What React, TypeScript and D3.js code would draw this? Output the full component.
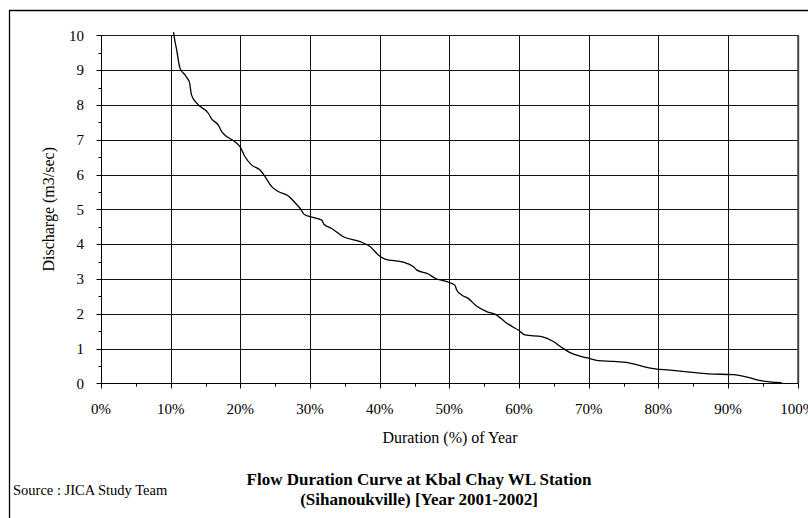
import React from "react";
import * as d3 from "d3";

const duration = [10.4, 10.6, 10.86, 11.34, 12.06, 12.53, 12.67, 13.0, 13.73, 15.4, 15.9, 16.84, 17.32, 19.23, 19.95, 20.67, 21.63, 22.82, 23.54, 24.5, 25.45, 26.9, 27.85, 28.57, 29.14, 30.0, 31.68, 32.0, 33.1, 34.78, 37.18, 38.61, 39.8, 40.76, 43.4, 44.84, 45.3, 46.98, 47.94, 50.1, 50.8, 51.05, 51.77, 52.7, 53.9, 55.36, 56.8, 57.97, 59.18, 59.9, 60.86, 63.25, 64.93, 66.13, 67.33, 68.77, 69.95, 71.38, 73.54, 75.45, 77.12, 79.04, 81.67, 84.54, 87.17, 90.75, 92.9, 94.33, 96.0, 97.7];
const discharge = [10.09, 9.85, 9.58, 9.05, 8.86, 8.72, 8.67, 8.28, 8.05, 7.76, 7.59, 7.42, 7.23, 6.94, 6.8, 6.51, 6.27, 6.13, 5.94, 5.65, 5.51, 5.38, 5.19, 5.03, 4.86, 4.79, 4.69, 4.57, 4.45, 4.21, 4.07, 3.93, 3.69, 3.57, 3.48, 3.35, 3.26, 3.14, 3.02, 2.89, 2.82, 2.68, 2.54, 2.44, 2.22, 2.06, 1.96, 1.77, 1.61, 1.53, 1.39, 1.34, 1.2, 1.03, 0.88, 0.78, 0.72, 0.65, 0.63, 0.6, 0.52, 0.43, 0.38, 0.32, 0.27, 0.25, 0.17, 0.09, 0.04, 0.02];

const yTicks = [0, 1, 2, 3, 4, 5, 6, 7, 8, 9, 10];
const xTicks = [0, 10, 20, 30, 40, 50, 60, 70, 80, 90, 100];
const yMinor = [0.5, 1.5, 2.5, 3.5, 4.5, 5.5, 6.5, 7.5, 8.5, 9.5];
const xMinor = [5, 15, 25, 35, 45, 55, 65, 75, 85, 95];

const xLabel = "Duration (%) of Year";
const yLabel = "Discharge (m3/sec)";
const titleLines = ["Flow Duration Curve at Kbal Chay WL Station", "(Sihanoukville) [Year 2001-2002]"];
const sourceText = "Source : JICA Study Team";

export default function App() {
  const W = 808, H = 518;
  const left = 101, right = 797.7, top = 35.3, bottom = 383.3;
  const x = d3.scaleLinear().domain([0, 100]).range([left, right]);
  const y = d3.scaleLinear().domain([0, 10]).range([bottom, top]);
  const pts = duration.map((d, i) => [d, discharge[i]] as [number, number]);
  const line = d3.line<[number, number]>().x(d => x(d[0])).y(d => y(d[1])).curve(d3.curveMonotoneX);
  const font = "'Liberation Serif', 'Times New Roman', serif";
  const r = (v: number) => Math.round(v) + 0.5;
  return (
    <svg width={W} height={H} style={{ position: "absolute", left: 0, top: 0, background: "#fff" }} fontFamily={font}>
      <rect x={0} y={0} width={W} height={H} fill="#fff" />
      {/* outer frame */}
      <line x1={9} x2={W} y1={10.5} y2={10.5} stroke="#000" strokeWidth={1.3} />
      <line x1={9.5} x2={9.5} y1={10} y2={H} stroke="#000" strokeWidth={1.3} />
      {/* grid */}
      {yTicks.map(t => (
        <line key={"gy" + t} x1={left} x2={right} y1={r(y(t))} y2={r(y(t))} stroke="#111" strokeWidth={1} />
      ))}
      {xTicks.map(t => (
        <line key={"gx" + t} x1={r(x(t))} x2={r(x(t))} y1={top} y2={bottom} stroke="#111" strokeWidth={1} />
      ))}
      {/* plot border right/top */}
      <line x1={right + 0.5} x2={right + 0.5} y1={top} y2={bottom} stroke="#444" strokeWidth={2} />
      <line x1={left} x2={right} y1={r(y(10))} y2={r(y(10))} stroke="#222" strokeWidth={1.2} />
      {/* axes */}
      <line x1={r(left)} x2={r(left)} y1={top} y2={bottom + 0.5} stroke="#000" strokeWidth={1} />
      <line x1={left} x2={right + 1} y1={r(bottom)} y2={r(bottom)} stroke="#000" strokeWidth={1} />
      {yTicks.map(t => (
        <line key={"ty" + t} x1={r(left) - 5} x2={r(left)} y1={r(y(t))} y2={r(y(t))} stroke="#000" />
      ))}
      {yMinor.map(t => (
        <line key={"my" + t} x1={r(left) - 3} x2={r(left)} y1={r(y(t))} y2={r(y(t))} stroke="#000" />
      ))}
      {xTicks.map(t => (
        <line key={"tx" + t} x1={r(x(t))} x2={r(x(t))} y1={r(bottom)} y2={r(bottom) + 5} stroke="#000" />
      ))}
      {xMinor.map(t => (
        <line key={"mx" + t} x1={r(x(t))} x2={r(x(t))} y1={r(bottom)} y2={r(bottom) + 3} stroke="#000" />
      ))}
      {/* tick labels */}
      {yTicks.map(t => (
        <text key={"ly" + t} x={84} y={y(t)} dy="0.35em" textAnchor="end" fontSize={15} fill="#000">{t}</text>
      ))}
      {xTicks.map(t => (
        <text key={"lx" + t} x={x(t)} y={414} textAnchor="middle" fontSize={15} fill="#000">{t + "%"}</text>
      ))}
      {/* curve */}
      <path d={line(pts) || ""} fill="none" stroke="#000" strokeWidth={1.3} />
      {/* axis titles */}
      <text x={450} y={443} textAnchor="middle" fontSize={16} fill="#000">{xLabel}</text>
      <text transform={`translate(54, ${y(5)}) rotate(-90)`} textAnchor="middle" fontSize={16} fill="#000">{yLabel}</text>
      {/* title */}
      {titleLines.map((s, i) => (
        <text key={"t" + i} x={419} y={485 + i * 20} textAnchor="middle" fontSize={17} fontWeight="bold" fill="#000">{s}</text>
      ))}
      <text x={13} y={495} fontSize={14.5} fill="#000">{sourceText}</text>
    </svg>
  );
}
